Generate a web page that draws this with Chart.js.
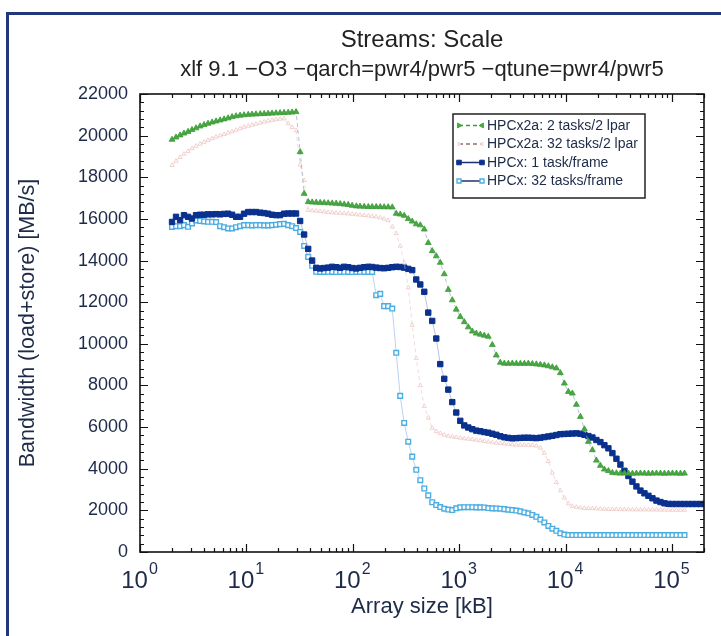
<!DOCTYPE html>
<html>
<head>
<meta charset="utf-8">
<title>Streams: Scale</title>
<script src="https://cdn.jsdelivr.net/npm/chart.js@4/dist/chart.umd.min.js"></script>
<style>
  html, body { margin: 0; padding: 0; background: #fff; }
  #wrap { position: relative; width: 721px; height: 636px; overflow: hidden; }
  #frame { position: absolute; left: 6px; top: 12px; width: 780px; height: 700px; border: 3px solid #23377c; box-sizing: border-box; }
  #plot { position: absolute; left: 0; top: 0; }
</style>
</head>
<body>
<div id="wrap">
  <div id="frame"></div>
  <canvas id="plot" width="721" height="636"></canvas>
</div>
<script>
// array sizes in kB (8 steps per doubling, 2 kB .. 256 MB)
const sizeKB = [
  2, 2.18, 2.38, 2.59, 2.83, 3.08, 3.36, 3.67,
  4, 4.36, 4.76, 5.19, 5.66, 6.17, 6.73, 7.34,
  8, 8.72, 9.51, 10.4, 11.3, 12.3, 13.5, 14.7,
  16, 17.4, 19.0, 20.7, 22.6, 24.7, 26.9, 29.3,
  32, 34.9, 38.1, 41.5, 45.3, 49.4, 53.8, 58.7,
  64, 69.8, 76.1, 83.0, 90.5, 98.7, 108, 117,
  128, 140, 152, 166, 181, 197, 215, 235,
  256, 279, 304, 332, 362, 395, 431, 470,
  512, 558, 609, 664, 724, 790, 861, 939,
  1024, 1117, 1218, 1328, 1448, 1579, 1722, 1878,
  2048, 2233, 2435, 2656, 2896, 3158, 3444, 3756,
  4096, 4467, 4871, 5312, 5793, 6317, 6889, 7512,
  8192, 8933, 9742, 10623, 11585, 12634, 13777, 15024,
  16384, 17867, 19484, 21247, 23170, 25268, 27554, 30048,
  32768, 35734, 38968, 42495, 46341, 50535, 55109, 60096,
  65536, 71468, 77936, 84990, 92682, 101070, 110218, 120194,
  131072, 142935, 155872, 169979, 185364, 202141, 220436, 240387,
  262144
];

// bandwidth in MB/s, one value per size
const bwHpcx2a2Tasks = [
  19810, 19920, 20020, 20110, 20190, 20280, 20360, 20450,
  20520, 20580, 20640, 20690, 20740, 20790, 20840, 20900,
  20940, 20970, 20990, 21010, 21020, 21030, 21040, 21050,
  21060, 21070, 21080, 21090, 21100, 21110, 21120, 21140,
  19215, 17215, 16815, 16800, 16790, 16780, 16770, 16760,
  16750, 16740, 16720, 16700, 16680, 16640, 16610, 16600,
  16590, 16580, 16580, 16580, 16575, 16570, 16570, 16560,
  16255, 16220, 16160, 16000, 15880, 15750, 15700, 15500,
  14850, 14460, 14210, 13900, 13350, 12600, 12100, 11650,
  11300, 11050, 10800, 10600, 10500, 10450, 10400, 10350,
  9950, 9450, 9100, 9055, 9050, 9060, 9050, 9050,
  9050, 9055, 9040, 9020, 9000, 8970, 8930, 8880,
  8830, 8600, 8100, 7700, 7620, 7080, 6500, 5900,
  5300, 4900, 4400, 4150, 3970, 3900, 3810, 3790,
  3775, 3780, 3775, 3770, 3775, 3780, 3775, 3770,
  3775, 3780, 3775, 3770, 3775, 3780, 3775, 3770,
  3775
];

const bwHpcx2a32Tasks = [
  18575, 18780, 18960, 19120, 19250, 19380, 19500, 19600,
  19690, 19780, 19860, 19940, 20000, 20060, 20130, 20200,
  20270, 20340, 20410, 20460, 20510, 20560, 20610, 20660,
  20705, 20740, 20770, 20800, 20815, 20580, 20400, 20250,
  18600, 17850, 16420, 16400, 16380, 16360, 16340, 16320,
  16300, 16290, 16280, 16260, 16250, 16230, 16210, 16190,
  16170, 16150, 16120, 16100, 16060, 16000, 15930, 15620,
  15300, 14700, 13900, 12700, 10900, 9300, 8000, 7000,
  6450, 5950, 5790, 5700, 5620, 5570, 5540, 5510,
  5480, 5450, 5430, 5410, 5380, 5350, 5320, 5290,
  5260, 5240, 5220, 5200, 5180, 5160, 5140, 5135,
  5135, 5135, 5130, 5100, 5000, 4750, 4350, 3800,
  3350, 2950, 2600, 2320, 2200, 2160, 2130, 2100,
  2095, 2090, 2080, 2070, 2060, 2055, 2050, 2050,
  2045, 2040, 2040, 2035, 2035, 2030, 2030, 2030,
  2025, 2025, 2020, 2020, 2020, 2015, 2015, 2015,
  2015
];

const bwHpcx1Task = [
  15855, 16100, 15940, 16180, 16100, 16020, 16180, 16200,
  16200, 16220, 16220, 16230, 16220, 16240, 16250, 16200,
  16100, 16100, 16250, 16330, 16330, 16330, 16300, 16280,
  16250, 16200, 16180, 16180, 16250, 16260, 16260, 16260,
  15900, 15250, 14560, 14000, 13650, 13620, 13640, 13660,
  13700, 13680, 13650, 13700, 13680, 13640, 13620, 13650,
  13680, 13700, 13690, 13660, 13640, 13630, 13650, 13680,
  13700, 13690, 13660, 13600, 13540, 13090, 12850, 12500,
  11500, 11100, 10255, 9025, 8320, 7800, 7200, 6700,
  6300, 6080, 5980, 5900, 5830, 5800, 5760, 5730,
  5680, 5630, 5560, 5510, 5480, 5460, 5470, 5480,
  5490, 5490, 5480, 5470, 5490, 5520, 5550, 5580,
  5620, 5660, 5670, 5680, 5690, 5700, 5680, 5630,
  5570, 5500, 5380, 5280, 5130, 4980, 4750, 4480,
  4200, 3900, 3650, 3380, 3150, 2950, 2820, 2700,
  2580, 2470, 2400, 2340, 2310, 2305, 2305, 2305,
  2305, 2305, 2305, 2305, 2305, 2305, 2305, 2305,
  2305
];

const bwHpcx32Tasks = [
  15615, 15650, 15650, 15700, 15620, 15780, 15930, 15900,
  15880, 15860, 15860, 15850, 15650, 15600, 15540, 15540,
  15600, 15650, 15700, 15700, 15690, 15700, 15700, 15690,
  15690, 15700, 15720, 15750, 15760, 15700, 15650, 15560,
  15375, 14700, 14175, 13750, 13460, 13455, 13455, 13460,
  13455, 13450, 13455, 13460, 13455, 13450, 13455, 13460,
  13455, 13455, 13455, 12335, 12400, 11810, 11810, 11695,
  9570, 7500, 6200, 5300, 4580, 3950, 3450, 3050,
  2720, 2390, 2255, 2160, 2080, 2040, 2015, 2100,
  2145, 2150, 2150, 2150, 2145, 2145, 2140, 2110,
  2095, 2090, 2080, 2060, 2030, 2015, 1990, 1950,
  1900, 1860, 1780, 1690, 1560, 1420, 1250, 1120,
  1020, 900, 840, 815, 815, 815, 815, 815,
  815, 815, 815, 815, 815, 815, 815, 815,
  815, 815, 815, 815, 815, 815, 815, 815,
  815, 815, 815, 815, 815, 815, 815, 815,
  815
];

const seriesLabels = [
  'HPCx2a: 2 tasks/2 lpar',
  'HPCx2a: 32 tasks/2 lpar',
  'HPCx: 1 task/frame',
  'HPCx: 32 tasks/frame'
];
const decadeExps = [0, 1, 2, 3, 4, 5];

const FONT = "'Liberation Sans', Arial, sans-serif";
const TEXT = '#1d2a48';

const pts = vals => vals.map((v, i) => ({ x: sizeKB[i], y: v }));

// legend swatch styles (line colour / dash in the key box)
const keyStyle = [
  { line: '#3f9a3a', dash: [4, 3] },
  { line: '#8c6e66', dash: [4, 3] },
  { line: '#1b2f70', dash: [] },
  { line: '#23306a', dash: [] }
];

// box, inward ticks on all four sides, decade labels, key box
const axisFrame = {
  id: 'axisFrame',
  afterDatasetsDraw(chart) {
    const { ctx, chartArea: a, scales: { x, y } } = chart;
    ctx.save();
    ctx.strokeStyle = '#111';
    ctx.lineWidth = 1.2;
    ctx.beginPath();
    for (let k = 0; k <= 5; k++) {
      for (let m = 1; m <= 9; m++) {
        const v = m * Math.pow(10, k);
        if (v > x.max) break;
        const px = Math.round(x.getPixelForValue(v)) + 0.5;
        const len = m === 1 ? 8 : 4;
        ctx.moveTo(px, a.bottom); ctx.lineTo(px, a.bottom - len);
        ctx.moveTo(px, a.top); ctx.lineTo(px, a.top + len);
      }
    }
    for (let v = 0; v <= y.max; v += 400) {
      const py = Math.round(y.getPixelForValue(v)) + 0.5;
      const len = v % 2000 === 0 ? 8 : 4;
      ctx.moveTo(a.left, py); ctx.lineTo(a.left + len, py);
      ctx.moveTo(a.right, py); ctx.lineTo(a.right - len, py);
    }
    ctx.stroke();
    ctx.lineWidth = 1.6;
    ctx.strokeRect(a.left, a.top, a.right - a.left, a.bottom - a.top);

    // decade labels 10^n
    ctx.fillStyle = TEXT;
    ctx.textAlign = 'left';
    ctx.textBaseline = 'alphabetic';
    decadeExps.forEach(e => {
      const px = x.getPixelForValue(Math.pow(10, e));
      ctx.font = '24px ' + FONT;
      const wb = ctx.measureText('10').width;
      ctx.font = '16px ' + FONT;
      const we = ctx.measureText(String(e)).width;
      const left = px - (wb + we) / 2 - 1;
      ctx.font = '24px ' + FONT;
      ctx.fillText('10', left, 588);
      ctx.font = '16px ' + FONT;
      ctx.fillText(String(e), left + wb + 1, 574);
    });

    // key box
    const bx = 453, by = 114, bw = 192, bh = 84;
    ctx.fillStyle = '#fff';
    ctx.fillRect(bx, by, bw, bh);
    ctx.strokeStyle = '#222';
    ctx.lineWidth = 1.5;
    ctx.strokeRect(bx, by, bw, bh);
    chart.data.datasets.forEach((ds, i) => {
      const cy = 125.5 + i * 18.5;
      const st = keyStyle[i];
      ctx.strokeStyle = st.line;
      ctx.lineWidth = 1.5;
      ctx.setLineDash(st.dash);
      ctx.beginPath(); ctx.moveTo(459, cy); ctx.lineTo(482, cy); ctx.stroke();
      ctx.setLineDash([]);
      ctx.fillStyle = ds.pointBackgroundColor;
      ctx.strokeStyle = ds.pointBorderColor;
      ctx.lineWidth = ds.pointBorderWidth;
      const opt = { pointStyle: ds.pointStyle, radius: ds.pointRadius * 0.85, borderWidth: ds.pointBorderWidth, rotation: ds.pointStyle === 'triangle' ? 90 : 0 };
      Chart.helpers.drawPoint(ctx, opt, 459, cy);
      opt.rotation = ds.pointStyle === 'triangle' ? -90 : 0;
      Chart.helpers.drawPoint(ctx, opt, 482, cy);
      ctx.fillStyle = TEXT;
      ctx.font = '14px ' + FONT;
      ctx.textBaseline = 'middle';
      ctx.fillText(ds.label, 487, cy + 0.5);
    });
    ctx.restore();
  }
};

new Chart(document.getElementById('plot'), {
  type: 'scatter',
  data: {
    datasets: [
      {
        label: seriesLabels[0], data: pts(bwHpcx2a2Tasks), showLine: true, clip: 0,
        borderColor: 'rgba(150,168,205,0.7)', borderWidth: 1, borderDash: [4, 3],
        pointStyle: 'triangle', pointRadius: 3.4, pointBackgroundColor: '#48a843',
        pointBorderColor: '#3c9b37', pointBorderWidth: 0.8
      },
      {
        label: seriesLabels[1], data: pts(bwHpcx2a32Tasks), showLine: true, clip: 0,
        borderColor: 'rgba(232,190,186,0.55)', borderWidth: 1, borderDash: [4, 3],
        pointStyle: 'triangle', pointRadius: 2.4, pointBackgroundColor: '#fff',
        pointBorderColor: '#eec6c1', pointBorderWidth: 0.8
      },
      {
        label: seriesLabels[2], data: pts(bwHpcx1Task), showLine: true, clip: 0,
        borderColor: 'rgba(150,170,220,0.7)', borderWidth: 1,
        pointStyle: 'rect', pointRadius: 3.8, pointBackgroundColor: '#0a318e',
        pointBorderColor: '#0a318e', pointBorderWidth: 1
      },
      {
        label: seriesLabels[3], data: pts(bwHpcx32Tasks), showLine: true, clip: 0,
        borderColor: 'rgba(170,200,238,0.8)', borderWidth: 1,
        pointStyle: 'rect', pointRadius: 3.3, pointBackgroundColor: '#fff',
        pointBorderColor: '#4aaee3', pointBorderWidth: 1.4
      }
    ]
  },
  options: {
    responsive: false,
    animation: false,
    layout: { padding: { left: 11, right: 17, top: 12, bottom: 12 } },
    plugins: {
      legend: { display: false },
      tooltip: { enabled: false },
      title: {
        display: true, text: 'Streams: Scale', fullSize: false, color: '#222',
        font: { family: FONT, size: 24, weight: 'normal' }, padding: { top: 14, bottom: 2 }
      },
      subtitle: {
        display: true, text: 'xlf 9.1 \u2212O3 \u2212qarch=pwr4/pwr5 \u2212qtune=pwr4/pwr5', fullSize: false, color: '#222',
        font: { family: FONT, size: 22, weight: 'normal' }, padding: { top: 0, bottom: 10.8 }
      }
    },
    scales: {
      x: {
        type: 'logarithmic', min: 1, max: 200000,
        grid: { display: false, drawTicks: false }, border: { display: false },
        ticks: { display: false },
        title: { display: true, text: 'Array size [kB]', color: TEXT, font: { family: FONT, size: 22 }, padding: { top: 4, bottom: 4 } },
        afterFit: s => { s.height = 72; }
      },
      y: {
        min: 0, max: 22000,
        grid: { display: false, drawTicks: false }, border: { display: false },
        ticks: { stepSize: 2000, padding: 12, color: TEXT, font: { family: FONT, size: 18 }, callback: v => String(v) },
        title: { display: true, text: 'Bandwidth (load+store) [MB/s]', color: TEXT, font: { family: FONT, size: 21.5 }, padding: { top: 4, bottom: 4 } },
        afterFit: s => { s.width = 129; }
      }
    }
  },
  plugins: [axisFrame]
});
</script>
</body>
</html>
